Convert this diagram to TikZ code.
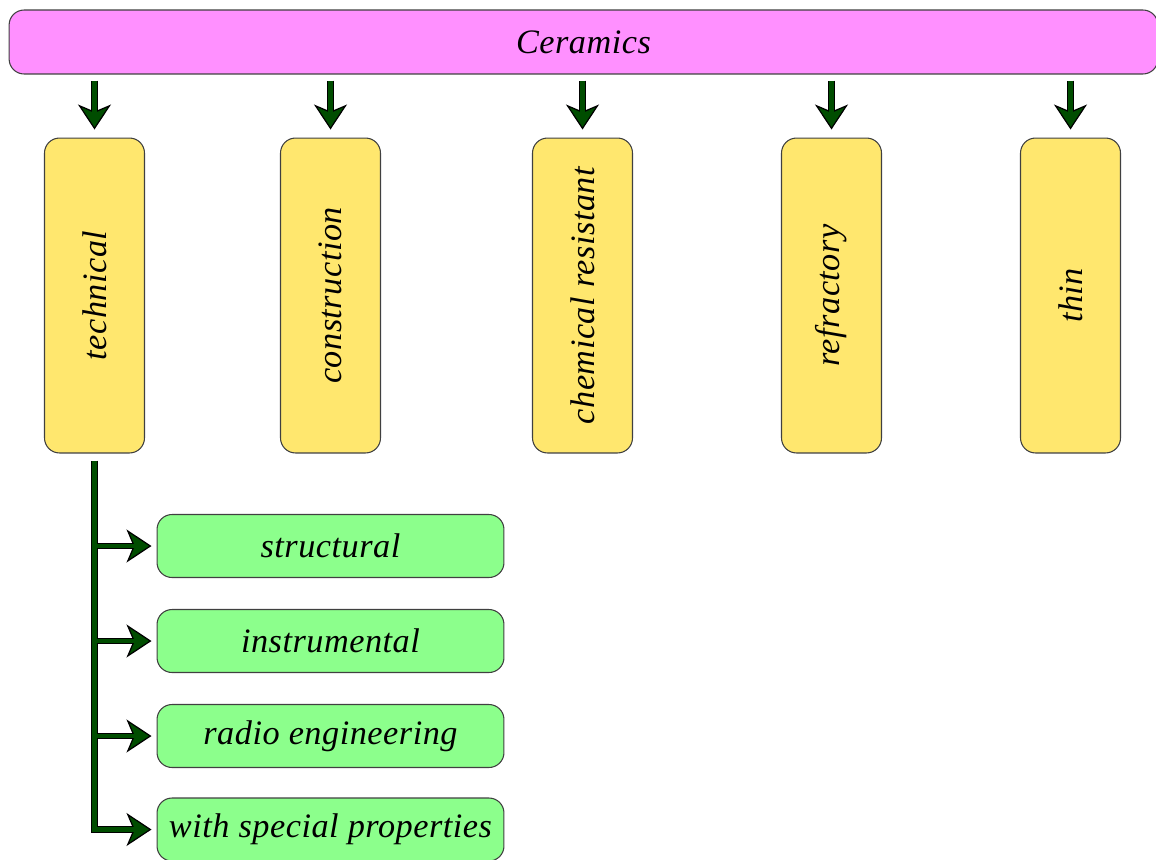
\documentclass[tikz,border=0pt]{standalone}
\usepackage{fontspec}
\setmainfont{Liberation Serif}[LetterSpace=1.5]
\usetikzlibrary{arrows.meta, positioning}
\definecolor{ceramicpink}{HTML}{FF90FF}
\definecolor{kindyellow}{HTML}{FFE76E}
\definecolor{subgreen}{HTML}{8CFF8C}
\definecolor{arrowgreen}{HTML}{004D00}

\begin{document}
\begin{tikzpicture}[x=0.02cm, y=-0.02cm,
    box/.style={draw=black!75, line width=0.6pt, rounded corners=0.3cm, inner sep=0pt,
      font=\fontsize{19.5}{22}\selectfont\itshape},
    top/.style={box, fill=ceramicpink, minimum width=22.98cm, minimum height=1.28cm},
    kind/.style={box, fill=kindyellow, rotate=90, minimum width=6.3cm, minimum height=2cm},
    sub/.style={box, fill=subgreen, minimum width=6.94cm, minimum height=1.26cm},
    outer/.style={draw=black, line width=3.8pt, line join=miter,
      -{Stealth[length=0.5cm, width=0.66cm, inset=0.14cm, line width=0.7pt, fill=arrowgreen]}},
    inner/.style={draw=arrowgreen, line width=2.4pt, line join=miter, shorten <=0.7pt, shorten >=0.3cm}]
  \useasboundingbox (0,0) rectangle (1156,859);

  \node[top] (ceramics) at (583.5,42) {Ceramics};

  \node[kind] (technical) at (94.5,295.5) {technical};
  \node[kind] (construction) at (330.5,295.5) {construction};
  \node[kind] (chemical) at (582.5,295.5) {chemical resistant};
  \node[kind] (refractory) at (831.5,295.5) {refractory};
  \node[kind] (thin) at (1070.5,295.5) {thin};

  \node[sub] (structural) at (330.5,546) {structural};
  \node[sub] (instrumental) at (330.5,641) {instrumental};
  \node[sub] (radio) at (330.5,736) {radio engineering};
  \node[sub] (special) at (330.5,829.5) {with special properties};

  % arrows from the top box
  \foreach \k in {technical, construction, chemical, refractory, thin} {
    \draw[outer, shorten <=0.12cm, shorten >=0.16cm] (\k.east |- ceramics.south) -- (\k.east);
    \draw[inner, shorten <=0.13cm, shorten >=0.46cm] (\k.east |- ceramics.south) -- (\k.east);
  }

  % branch of the technical ceramics
  \coordinate (corner) at (technical.west |- special.west);
  \draw[outer, shorten <=0.14cm, shorten >=0.1cm] (technical.west) -- (corner) -- (special.west);
  \foreach \s in {structural, instrumental, radio}
    \draw[outer, shorten >=0.1cm] (technical.west |- \s.west) -- (\s.west);
  \draw[inner, shorten <=0.15cm, shorten >=0.4cm] (technical.west) -- (corner) -- (special.west);
  \foreach \s in {structural, instrumental, radio}
    \draw[inner, shorten <=0pt, shorten >=0.4cm] (technical.west |- \s.west) -- (\s.west);
\end{tikzpicture}
\end{document}
